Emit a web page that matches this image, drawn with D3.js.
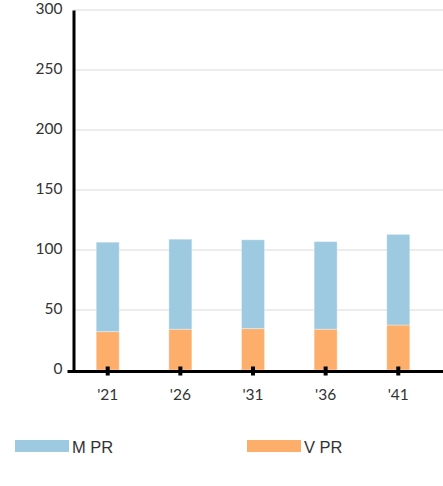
<!DOCTYPE html>
<html>
<head>
<meta charset="utf-8">
<script src="https://cdn.jsdelivr.net/npm/d3@7"></script>
<style>
  body{margin:0;background:#fff;}
  svg{display:block;}
</style>
</head>
<body>
<svg id="chart" width="443" height="486"></svg>
<script>
const years = ["'21", "'26", "'31", "'36", "'41"];
const vPR = [32, 34, 34.5, 34, 37.5];
const mPR = [74.5, 75, 74, 73, 75.5];
const yTicks = [0, 50, 100, 150, 200, 250, 300];
const seriesNames = ["M PR", "V PR"];
const colors = {"M PR": "#9ecae1", "V PR": "#fdae6b"};

const width = 443, height = 486;
const svg = d3.select('#chart');

const x = d3.scaleBand().domain(years).range([71.5, 434.5]).paddingInner(0.683).paddingOuter(0.34);
const y = d3.scaleLinear().domain([0, 300]).range([370, 10]);

// gridlines
svg.append('g').selectAll('line').data(yTicks.filter(d => d > 0)).enter().append('line')
  .attr('x1', 74).attr('x2', width)
  .attr('y1', d => y(d)).attr('y2', d => y(d))
  .attr('stroke', '#d9d9d9').attr('stroke-width', 1);

// stacked bars
const rows = years.map((yr, i) => ({year: yr, "V PR": vPR[i], "M PR": mPR[i]}));
const stack = d3.stack().keys(["V PR", "M PR"])(rows);
svg.append('g').selectAll('g').data(stack).enter().append('g')
  .attr('fill', d => colors[d.key])
  .selectAll('rect').data(d => d).enter().append('rect')
  .attr('x', d => x(d.data.year))
  .attr('width', x.bandwidth())
  .attr('y', d => y(d[1]))
  .attr('height', d => y(d[0]) - y(d[1]))
  .attr('stroke', '#fff').attr('stroke-opacity', 0.35).attr('stroke-width', 1);

// y axis
const yAxis = svg.append('g').attr('transform', 'translate(73.5,0)')
  .call(d3.axisLeft(y).tickValues(yTicks).tickSize(0).tickPadding(11));
yAxis.select('.domain').attr('stroke', '#000').attr('stroke-width', 3);
yAxis.selectAll('text').attr('font-family', 'Lato, sans-serif').attr('font-size', 15.5).attr('fill', '#333').attr('dy', '0.2em');

// x axis
const xAxis = svg.append('g').attr('transform', 'translate(0,371.5)')
  .call(d3.axisBottom(x).tickSize(0).tickPadding(17));
xAxis.select('.domain').attr('d', `M67.5,0H${width}`).attr('stroke', '#000').attr('stroke-width', 3);
xAxis.selectAll('text').attr('font-family', 'Lato, sans-serif').attr('font-size', 15.5).attr('fill', '#333');
xAxis.selectAll('.tick').append('rect')
  .attr('x', -2).attr('y', -5).attr('width', 4).attr('height', 9).attr('fill', '#000');

// legend
const legendX = [15, 247];
const legend = svg.append('g').selectAll('g').data(seriesNames).enter().append('g')
  .attr('transform', (d, i) => `translate(${legendX[i]},440)`);
legend.append('rect').attr('width', 54).attr('height', 12).attr('fill', d => colors[d]);
legend.append('text').attr('x', 57).attr('y', 13.3)
  .attr('font-family', 'Liberation Sans, Arial, sans-serif').attr('font-size', 16.5).attr('fill', '#333')
  .text(d => d);
</script>
</body>
</html>
